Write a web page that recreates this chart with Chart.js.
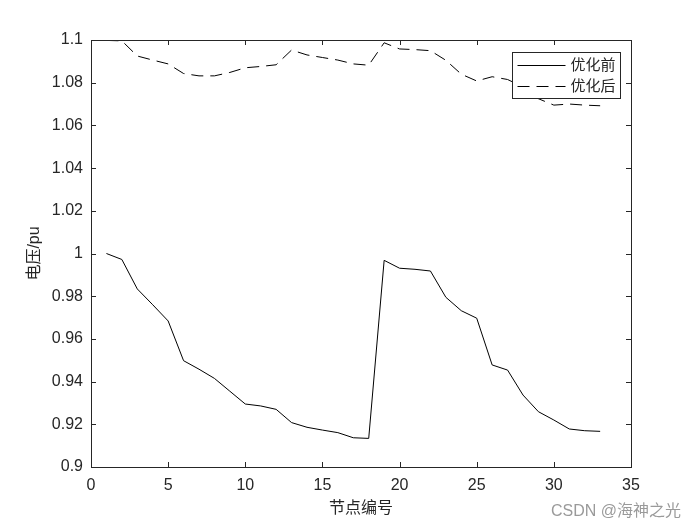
<!DOCTYPE html>
<html>
<head>
<meta charset="utf-8">
<script src="https://cdn.jsdelivr.net/npm/chart.js@4.4.0/dist/chart.umd.min.js"></script>
<style>
  body { margin:0; background:#fff; }
  #wrap { position:relative; width:700px; height:525px; }
  #mark { position:absolute; left:551px; top:497px; font:16px "Liberation Sans","Noto Sans CJK SC",sans-serif; color:#9a9a9a; white-space:nowrap; }
</style>
</head>
<body>
<div id="wrap">
  <canvas id="c"></canvas>
  <div id="mark">CSDN @海神之光</div>
</div>
<script>
// 节点编号 1..33
const nodes = [1,2,3,4,5,6,7,8,9,10,11,12,13,14,15,16,17,18,19,20,21,22,23,24,25,26,27,28,29,30,31,32,33];
const before = [1.0000,0.9972,0.9834,0.9760,0.9684,0.9498,0.9458,0.9415,0.9355,0.9295,0.9286,0.9270,0.9208,0.9186,0.9173,0.9161,0.9137,0.9134,
                0.9968,0.9931,0.9926,0.9918,0.9795,0.9732,0.9697,0.9478,0.9454,0.9337,0.9259,0.9220,0.9178,0.9170,0.9167];
const after  = [1.0998,1.0996,1.0925,1.0906,1.0888,1.0843,1.0832,1.0832,1.0848,1.0870,1.0876,1.0884,1.0953,1.0930,1.0918,1.0906,1.0888,1.0882,
                1.0987,1.0958,1.0955,1.0950,1.0905,1.0840,1.0808,1.0828,1.0815,1.0780,1.0725,1.0695,1.0700,1.0695,1.0692];
const seriesNames = ['优化前','优化后'];
const xTicks = [0,5,10,15,20,25,30,35];
const yTicks = [0.9,0.92,0.94,0.96,0.98,1,1.02,1.04,1.06,1.08,1.1];

const axisColor = '#262626';
const tickFont = { family:'"Liberation Sans", Arial, sans-serif', size:16 };
const cjkFont = '"Liberation Sans", "Noto Sans CJK SC", sans-serif';

// box + inward ticks, MATLAB style
const boxPlugin = {
  id:'box',
  afterDraw(chart){
    const {ctx, chartArea:a, scales:{x, y}} = chart;
    ctx.save();
    ctx.strokeStyle = axisColor;
    ctx.lineWidth = 1;
    ctx.strokeRect(a.left+0.5, a.top+0.5, a.right-a.left, a.bottom-a.top);
    ctx.beginPath();
    xTicks.forEach(v=>{
      const px = Math.round(x.getPixelForValue(v))+0.5;
      ctx.moveTo(px, a.bottom); ctx.lineTo(px, a.bottom-5);
      ctx.moveTo(px, a.top); ctx.lineTo(px, a.top+5);
    });
    yTicks.forEach(v=>{
      const py = Math.round(y.getPixelForValue(v))+0.5;
      ctx.moveTo(a.left, py); ctx.lineTo(a.left+5, py);
      ctx.moveTo(a.right, py); ctx.lineTo(a.right-5, py);
    });
    ctx.stroke();

    // legend
    const lx = 512.5, ly = 52.5, lw = 108, lh = 46;
    ctx.fillStyle = '#fff';
    ctx.fillRect(lx, ly, lw, lh);
    ctx.strokeRect(lx, ly, lw, lh);
    ctx.font = '15px ' + cjkFont;
    ctx.textBaseline = 'middle';
    ctx.textAlign = 'left';
    chart.data.datasets.forEach((ds,i)=>{
      const ry = ly + 13 + i*21;
      ctx.strokeStyle = ds.borderColor;
      ctx.setLineDash(ds.borderDash || []);
      ctx.beginPath();
      ctx.moveTo(lx+5, ry); ctx.lineTo(lx+53, ry);
      ctx.stroke();
      ctx.setLineDash([]);
      ctx.fillStyle = '#262626';
      ctx.fillText(ds.label, lx+58, ry);
    });
    ctx.restore();
  }
};

new Chart(document.getElementById('c'), {
  type:'line',
  data:{
    datasets:[
      { label:seriesNames[0], data:nodes.map((n,i)=>({x:n, y:before[i]})), borderColor:'#000', borderWidth:1, pointRadius:0, tension:0 },
      { label:seriesNames[1], data:nodes.map((n,i)=>({x:n, y:after[i]})), borderColor:'#000', borderWidth:1, borderDash:[12,7], pointRadius:0, tension:0 }
    ]
  },
  options:{
    responsive:true,
    maintainAspectRatio:false,
    animation:false,
    layout:{ padding:{ top:40, right:69, left:0, bottom:0 } },
    plugins:{ legend:{ display:false }, tooltip:{ enabled:false } },
    scales:{
      x:{
        type:'linear', min:0, max:35,
        afterBuildTicks:s=>{ s.ticks = xTicks.map(v=>({value:v})); },
        afterFit:s=>{ s.height = 58; },
        grid:{ display:false, drawTicks:false },
        border:{ display:false },
        ticks:{ color:axisColor, font:tickFont, padding:9, maxRotation:0 },
        title:{ display:true, text:'节点编号', color:axisColor, font:{ family:cjkFont, size:16 }, padding:{ top:0, bottom:7 } }
      },
      y:{
        type:'linear', min:0.9, max:1.1,
        afterBuildTicks:s=>{ s.ticks = yTicks.map(v=>({value:v})); },
        afterFit:s=>{ s.width = 91; },
        grid:{ display:false, drawTicks:false },
        border:{ display:false },
        ticks:{ color:axisColor, font:tickFont, padding:8, callback:v=>String(parseFloat(v.toFixed(2))) },
        title:{ display:true, text:'电压/pu', color:axisColor, font:{ family:cjkFont, size:16 }, padding:{ top:25, bottom:0 } }
      }
    }
  },
  plugins:[boxPlugin]
});
</script>
</body>
</html>
